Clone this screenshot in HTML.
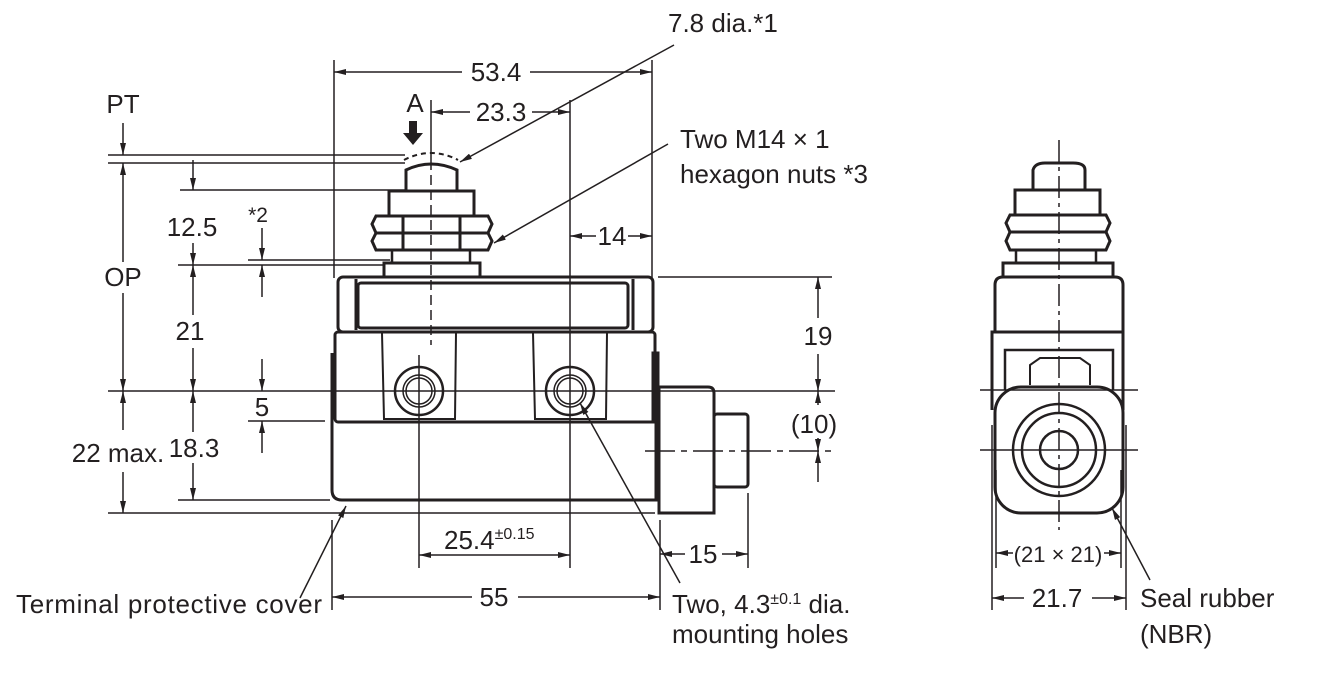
<!DOCTYPE html>
<html><head><meta charset="utf-8"><style>
html,body{margin:0;padding:0;background:#fff;}
svg{display:block;}
text{font-family:"Liberation Sans",Arial,sans-serif;fill:#231f20;}
</style></head><body>
<svg width="1328" height="696" viewBox="0 0 1328 696" xmlns="http://www.w3.org/2000/svg">
<defs>
<marker id="a" viewBox="0 0 12 6" refX="12" refY="3" markerWidth="12" markerHeight="6" orient="auto-start-reverse" markerUnits="userSpaceOnUse"><path d="M0,0 L12,3 L0,6 Z" fill="#231f20"/></marker>
</defs>
<g stroke="#231f20" stroke-width="1.5" fill="none">
<line x1="108" y1="155" x2="405" y2="155"/>
<line x1="108" y1="163" x2="405" y2="163"/>
<line x1="180" y1="190" x2="405" y2="190"/>
<line x1="248" y1="260" x2="390" y2="260"/>
<line x1="178" y1="265" x2="383" y2="265"/>
<line x1="108" y1="391" x2="835" y2="391"/>
<line x1="248" y1="421" x2="325" y2="421"/>
<line x1="178" y1="500" x2="330" y2="500"/>
<line x1="108" y1="513" x2="655" y2="513"/>
<line x1="123" y1="123" x2="123" y2="155" marker-end="url(#a)"/>
<line x1="123" y1="163" x2="123" y2="262" marker-start="url(#a)"/>
<line x1="123" y1="293" x2="123" y2="391" marker-end="url(#a)"/>
<line x1="123" y1="391" x2="123" y2="430" marker-start="url(#a)"/>
<line x1="123" y1="472" x2="123" y2="513" marker-end="url(#a)"/>
<line x1="193" y1="160" x2="193" y2="190" marker-end="url(#a)"/>
<line x1="193" y1="243" x2="193" y2="265" marker-end="url(#a)"/>
<line x1="193" y1="265" x2="193" y2="315" marker-start="url(#a)"/>
<line x1="193" y1="348" x2="193" y2="391" marker-end="url(#a)"/>
<line x1="193" y1="391" x2="193" y2="432" marker-start="url(#a)"/>
<line x1="193" y1="463" x2="193" y2="500" marker-end="url(#a)"/>
<line x1="262" y1="228" x2="262" y2="260" marker-end="url(#a)"/>
<line x1="262" y1="265" x2="262" y2="297" marker-start="url(#a)"/>
<line x1="262" y1="359" x2="262" y2="391" marker-end="url(#a)"/>
<line x1="262" y1="421" x2="262" y2="453" marker-start="url(#a)"/>
<line x1="334" y1="60" x2="334" y2="278"/>
<line x1="652" y1="60" x2="652" y2="278"/>
<line x1="570" y1="100" x2="570" y2="568"/>
<line x1="419" y1="355" x2="419" y2="568"/>
<line x1="431" y1="100" x2="431" y2="160"/>
<line x1="431" y1="160" x2="431" y2="345" stroke-dasharray="10,5"/>
<line x1="334" y1="72" x2="462" y2="72" marker-start="url(#a)"/>
<line x1="530" y1="72" x2="652" y2="72" marker-end="url(#a)"/>
<line x1="431" y1="112" x2="470" y2="112" marker-start="url(#a)"/>
<line x1="532" y1="112" x2="570" y2="112" marker-end="url(#a)"/>
<line x1="570" y1="236" x2="596" y2="236" marker-start="url(#a)"/>
<line x1="628" y1="236" x2="652" y2="236" marker-end="url(#a)"/>
<line x1="674" y1="45" x2="460" y2="162" marker-end="url(#a)"/>
<line x1="668" y1="144" x2="494" y2="243" marker-end="url(#a)"/>
<line x1="680" y1="583" x2="580" y2="403" marker-end="url(#a)"/>
<line x1="300" y1="598" x2="346" y2="506" marker-end="url(#a)"/>
<line x1="658" y1="277" x2="832" y2="277"/>
<line x1="645" y1="451" x2="832" y2="451" stroke-dasharray="30,6,6,6"/>
<line x1="818" y1="277" x2="818" y2="318" marker-start="url(#a)"/>
<line x1="818" y1="354" x2="818" y2="391" marker-end="url(#a)"/>
<line x1="818" y1="391" x2="818" y2="405" marker-start="url(#a)"/>
<line x1="818" y1="438" x2="818" y2="451" marker-end="url(#a)"/>
<line x1="818" y1="451" x2="818" y2="482" marker-start="url(#a)"/>
<line x1="419" y1="555" x2="570" y2="555" marker-start="url(#a)" marker-end="url(#a)"/>
<line x1="332" y1="520" x2="332" y2="610"/>
<line x1="660" y1="520" x2="660" y2="610"/>
<line x1="748" y1="493" x2="748" y2="568"/>
<line x1="332" y1="597" x2="472" y2="597" marker-start="url(#a)"/>
<line x1="518" y1="597" x2="660" y2="597" marker-end="url(#a)"/>
<line x1="660" y1="554" x2="685" y2="554" marker-start="url(#a)"/>
<line x1="722" y1="554" x2="748" y2="554" marker-end="url(#a)"/>
</g>
<g stroke="#231f20" stroke-width="3" fill="none">
<path d="M406,190 L406,170 Q431,158 457,170 L457,190"/>
<path d="M404,160 Q431,146 458,160" stroke-width="2" stroke-dasharray="5,4"/>
<rect x="389" y="191" width="85" height="25"/>
<path d="M376,216 L488,216 L492,224 L488,233 L376,233 L372,224 Z"/>
<path d="M376,233 L488,233 L492,241 L488,250 L376,250 L372,241 Z"/>
<line x1="403" y1="216" x2="403" y2="250"/>
<line x1="460" y1="216" x2="460" y2="250"/>
<rect x="392" y="250" width="78" height="13" stroke-width="2.5"/>
<rect x="384" y="263" width="96" height="14"/>
<rect x="338" y="277" width="315" height="55" rx="5"/>
<rect x="358" y="283" width="270" height="45" rx="3"/>
<line x1="356" y1="279" x2="356" y2="330"/>
<line x1="633" y1="279" x2="633" y2="330"/>
<rect x="335" y="332" width="320" height="90" rx="3"/>
<path d="M382,333 L384,419 L455,419 L456,333" stroke-width="2"/>
<path d="M533,333 L535,419 L606,419 L607,333" stroke-width="2"/>
<path d="M332,353 L332,490 Q332,500 342,500 L656,500 L656,422"/>
<rect x="653" y="353" width="5" height="69" fill="#231f20"/>
<path d="M659,387 L708,387 Q714,387 714,393 L714,513 L659,513 Z"/>
<rect x="714" y="414" width="34" height="73" rx="3"/>
</g>
<g stroke="#231f20" fill="none">
<circle cx="419" cy="391" r="24" stroke-width="2.5"/>
<circle cx="419" cy="391" r="16" stroke-width="1.5"/>
<circle cx="419" cy="391" r="13" stroke-width="1.5"/>
<circle cx="570" cy="391" r="24" stroke-width="2.5"/>
<circle cx="570" cy="391" r="16" stroke-width="1.5"/>
<circle cx="570" cy="391" r="13" stroke-width="1.5"/>
</g>
<path d="M409,121 L417,121 L417,133 L423,133 L413,145 L403,133 L409,133 Z" fill="#231f20"/>
<g stroke="#231f20" stroke-width="3" fill="none">
<path d="M1033,190 L1033,170 Q1035,163 1045,163 L1073,163 Q1085,163 1085,170 L1085,190"/>
<rect x="1015" y="190" width="85" height="25"/>
<path d="M1010,215 L1106,215 L1110,223 L1106,232 L1010,232 L1006,223 Z"/>
<path d="M1010,232 L1106,232 L1110,241 L1106,250 L1010,250 L1006,241 Z"/>
<rect x="1016" y="250" width="80" height="13" stroke-width="2.5"/>
<rect x="1003" y="263" width="110" height="14"/>
<path d="M995,332 L995,285 Q995,277 1003,277 L1115,277 Q1123,277 1123,285 L1123,332 Z"/>
<path d="M992,410 L992,332 L1123,332 L1123,410"/>
<path d="M1005,390 L1005,350 L1113,350 L1113,390" stroke-width="2.5"/>
<path d="M1030,385 L1030,365 L1040,358 L1080,358 L1090,365 L1090,385" stroke-width="2"/>
<rect x="995" y="387" width="128" height="126" rx="26"/>
</g>
<g stroke="#231f20" fill="none" stroke-width="2.5">
<circle cx="1059" cy="450" r="46"/>
<circle cx="1059" cy="450" r="37"/>
<circle cx="1059" cy="450" r="19"/>
</g>
<g stroke="#231f20" stroke-width="1.5" fill="none">
<line x1="1059" y1="140" x2="1059" y2="530" stroke-dasharray="22,5,4,5"/>
<line x1="980" y1="390" x2="1138" y2="390"/>
<line x1="980" y1="450" x2="1138" y2="450"/>
<line x1="992" y1="425" x2="992" y2="610"/>
<line x1="1126" y1="425" x2="1126" y2="610"/>
<line x1="996" y1="470" x2="996" y2="568"/>
<line x1="1121" y1="470" x2="1121" y2="568"/>
<line x1="996" y1="553" x2="1013" y2="553" marker-start="url(#a)"/>
<line x1="1104" y1="553" x2="1121" y2="553" marker-end="url(#a)"/>
<line x1="992" y1="598" x2="1024" y2="598" marker-start="url(#a)"/>
<line x1="1092" y1="598" x2="1126" y2="598" marker-end="url(#a)"/>
<line x1="1150" y1="580" x2="1112" y2="508" marker-end="url(#a)"/>
</g>
<g font-size="26" text-anchor="middle">
<text x="123" y="113">PT</text>
<text x="123" y="286">OP</text>
<text x="192" y="236">12.5</text>
<text x="258" y="222" font-size="21">*2</text>
<text x="190" y="340">21</text>
<text x="262" y="416">5</text>
<text x="118" y="462">22 max.</text>
<text x="194" y="457">18.3</text>
<text x="415" y="112">A</text>
<text x="496" y="81">53.4</text>
<text x="501" y="121">23.3</text>
<text x="612" y="245">14</text>
<text x="818" y="345">19</text>
<text x="814" y="433">(10)</text>
<text x="703" y="563">15</text>
<text x="494" y="606">55</text>
<text x="1057" y="607">21.7</text>
<text x="1058" y="562" font-size="22">(21 × 21)</text>
</g>
<g font-size="26">
<text x="668" y="32">7.8 dia.*1</text>
<text x="680" y="148">Two M14 × 1</text>
<text x="680" y="183">hexagon nuts *3</text>
<text x="444" y="549">25.4<tspan font-size="16" dy="-10">±0.15</tspan></text>
<text x="16" y="613" textLength="306">Terminal protective cover</text>
<text x="672" y="613">Two, 4.3<tspan font-size="16" dy="-9">±0.1</tspan><tspan dy="9"> dia.</tspan></text>
<text x="672" y="643">mounting holes</text>
<text x="1140" y="607">Seal rubber</text>
<text x="1140" y="643">(NBR)</text>
</g>
<rect x="1279" y="580" width="49" height="40" fill="#fff"/>
</svg>
</body></html>
